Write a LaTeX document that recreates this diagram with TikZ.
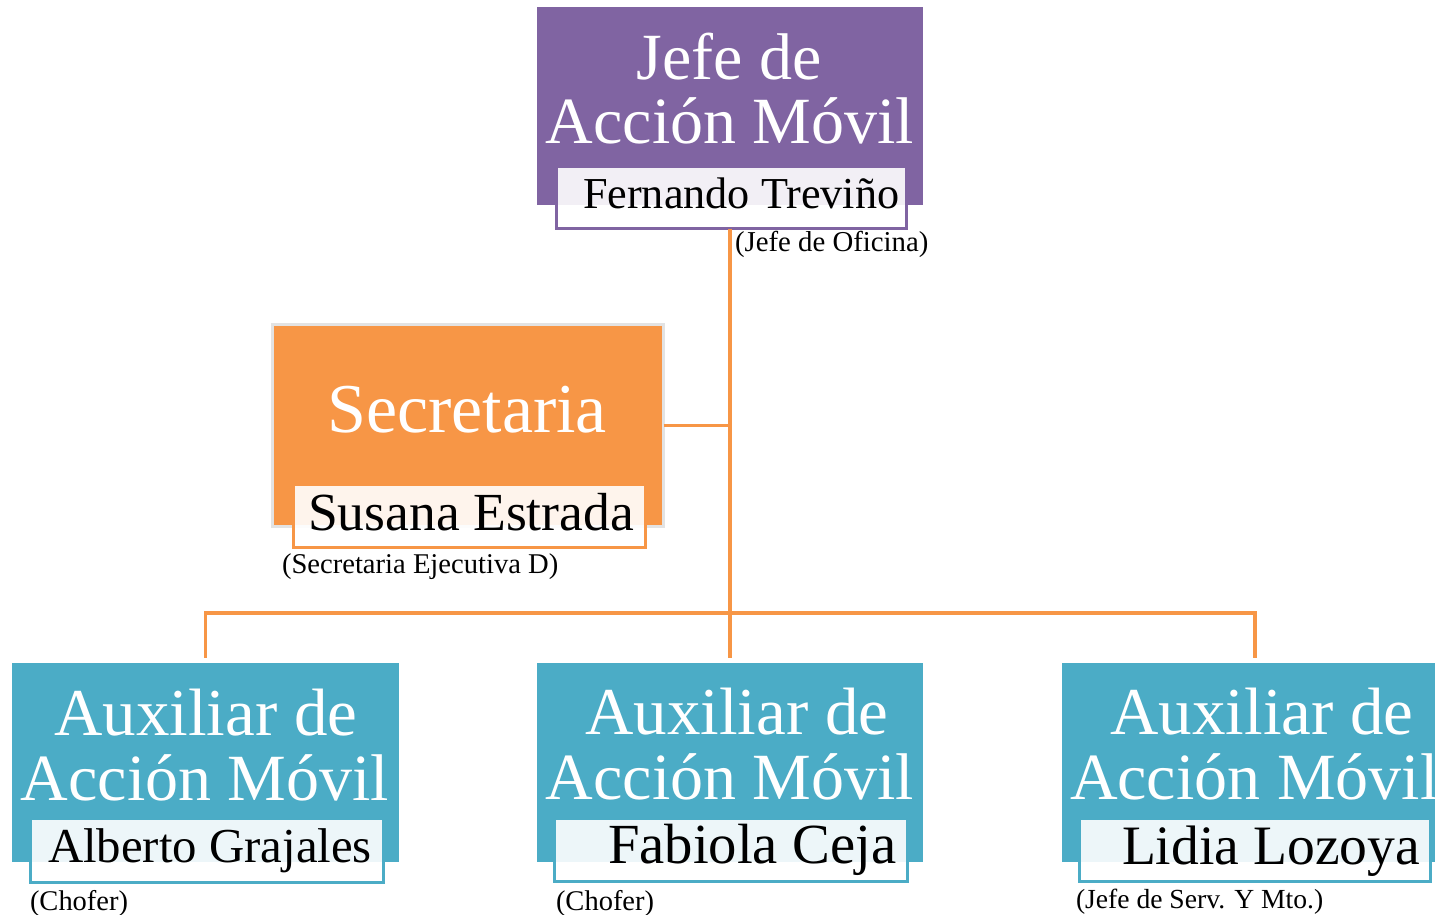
\documentclass[tikz,border=0pt]{standalone}
\usepackage{fontspec}
\setmainfont{Liberation Serif}
\definecolor{purp}{HTML}{8064A2}
\definecolor{orng}{HTML}{F79646}
\definecolor{tealb}{HTML}{4BACC6}
\definecolor{secedge}{HTML}{E3E3E3}
\newcommand{\fsz}[1]{\fontsize{#1}{#1}\selectfont}
\begin{document}
\begin{tikzpicture}[x=1pt,y=-1pt,
  box/.style={rectangle,inner sep=0pt,outer sep=0pt,draw=none},
  lbl/.style={rectangle,inner sep=0pt,outer sep=0pt,fill=white,fill opacity=0.9,line width=3pt},
  txt/.style={inner sep=0pt,outer sep=0pt,anchor=base},
  txtw/.style={inner sep=0pt,outer sep=0pt,anchor=base west},
  conn/.style={draw=orng,line width=3.5pt}]
\useasboundingbox[fill=white] (0,0) rectangle (1435,915);
% boxes
\node[box,fill=purp,minimum width=386pt,minimum height=198pt] (jefe) at (730,106) {};
\node[box,fill=orng,draw=secedge,line width=3pt,minimum width=391pt,minimum height=202pt] (sec) at (468,425.5) {};
\node[box,fill=tealb,minimum width=387pt,minimum height=199pt] (aux1) at (205.5,762.5) {};
\node[box,fill=tealb,minimum width=386pt,minimum height=199pt] (aux2) at (730,762.5) {};
\node[box,fill=tealb,minimum width=386pt,minimum height=199pt] (aux3) at (1255,762.5) {};
% connectors
\coordinate (hub) at (730,613);
\node[lbl,draw=purp,minimum width=350pt,minimum height=62pt] (jefeL) at (731.5,197.5) {};
\draw[conn] (jefeL.south -| hub) -- (hub);
\draw[conn,shorten >=5pt] (hub) -- (aux2.north -| hub);
\draw[conn,shorten >=5pt] (hub) -| (aux1.north);
\draw[conn,shorten >=5pt] (hub) -| (aux3.north);
\draw[conn] (sec.east) -- (sec.east -| hub);
% label boxes
\node[lbl,draw=orng,minimum width=352pt,minimum height=63pt] (secL) at (469.5,516) {};
\node[lbl,draw=tealb,minimum width=353pt,minimum height=64pt] (aux1L) at (207,850.5) {};
\node[lbl,draw=tealb,minimum width=353pt,minimum height=63pt] (aux2L) at (731,850) {};
\node[lbl,draw=tealb,minimum width=351pt,minimum height=63pt] (aux3L) at (1255,850) {};
% texts: jefe
\node[txt,text=white,font=\fsz{66}] (jefeT1) at (729,80) {Jefe de};
\node[txt,text=white,font=\fsz{66}] (jefeT2) at (730,143) {Acción Móvil};
\node[txtw,font=\fsz{44.2}] (jefeN) at (583,208) {Fernando Treviño};
\node[txtw,font=\fsz{28.8}] (jefeR) at (735,251) {(Jefe de Oficina)};
% secretaria
\node[txt,text=white,font=\fsz{70}] (secT) at (467,432) {Secretaria};
\node[txtw,font=\fsz{53.6}] (secN) at (308,530) {Susana Estrada};
\node[txtw,font=\fsz{28.6}] (secR) at (282,573) {(Secretaria Ejecutiva D)};
% aux1
\node[txt,text=white,font=\fsz{67}] (a1T1) at (206,735) {Auxiliar de};
\node[txt,text=white,font=\fsz{66}] (a1T2) at (205,800) {Acción Móvil};
\node[txtw,font=\fsz{48.8}] (a1N) at (48,862) {Alberto Grajales};
\node[txtw,font=\fsz{28.5}] (a1R) at (30,910) {(Chofer)};
% aux2
\node[txt,text=white,font=\fsz{67}] (a2T1) at (737,734) {Auxiliar de};
\node[txt,text=white,font=\fsz{66}] (a2T2) at (730,799) {Acción Móvil};
\node[txtw,font=\fsz{56.7}] (a2N) at (608,863) {Fabiola Ceja};
\node[txtw,font=\fsz{28.5}] (a2R) at (556,910) {(Chofer)};
% aux3
\node[txt,text=white,font=\fsz{67}] (a3T1) at (1262,734) {Auxiliar de};
\node[txtw,text=white,font=\fsz{66}] (a3T2) at (1070,799) {Acción Móvil};
\node[txtw,font=\fsz{55.6}] (a3N) at (1122,864) {Lidia Lozoya};
\node[txtw,font=\fsz{27.6}] (a3R) at (1076,908) {(Jefe de Serv. Y Mto.)};
\end{tikzpicture}
\end{document}
